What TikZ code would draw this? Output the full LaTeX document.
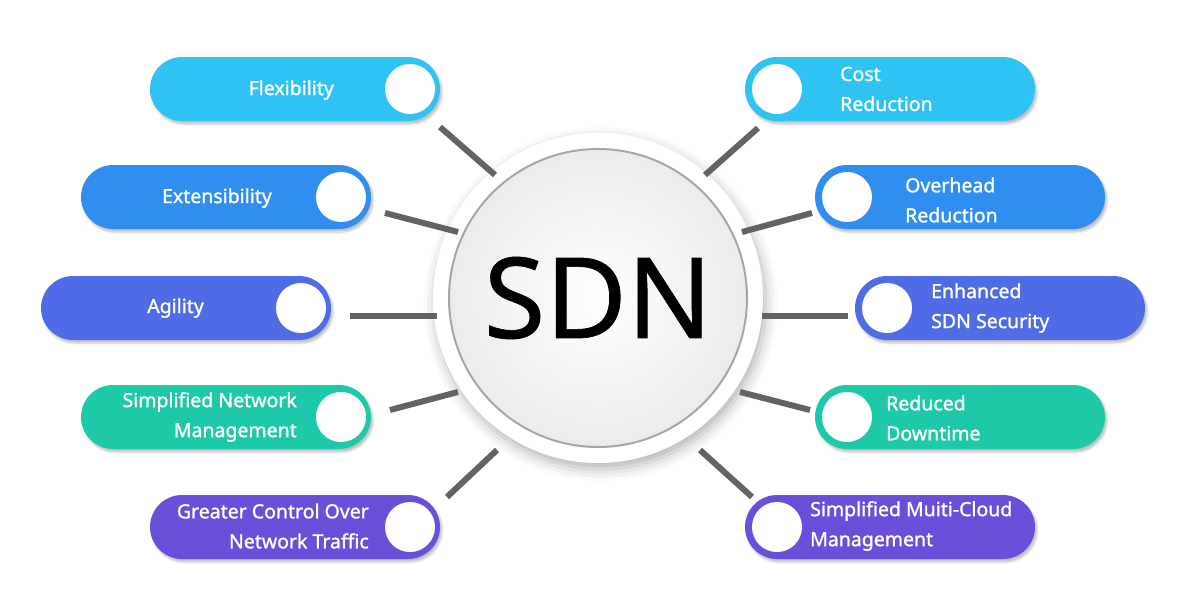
\documentclass[tikz,border=0pt]{standalone}
\usepackage{fontspec}
\setmainfont{Noto Sans}
\newfontfamily\labfont[FakeBold=1.3]{Noto Sans}
\newfontfamily\sdnfont[FakeBold=0.6]{Noto Sans}
\usetikzlibrary{shadows.blur}
\definecolor{cA}{HTML}{2EC3F2}
\definecolor{cB}{HTML}{2F8EEF}
\definecolor{cC}{HTML}{4F6BE6}
\definecolor{cD}{HTML}{1EC9A9}
\definecolor{cE}{HTML}{6A4FDB}
\definecolor{lk}{HTML}{636363}
\tikzset{
 pill/.style={rounded corners=32pt, minimum width=290pt, minimum height=64pt, draw=none, blur shadow={shadow xshift=2pt,shadow yshift=-3pt,shadow opacity=25}},
 dot/.style={circle, fill=white, minimum size=50pt, inner sep=0pt},
 lab/.style={text=white, font=\labfont\fontsize{19.5}{30}\selectfont, inner sep=0pt},
 link/.style={draw=lk, line width=6pt}
}
\begin{document}
\begin{tikzpicture}[x=1pt,y=-1pt]
\useasboundingbox (0,0) rectangle (1200,616);
% center
\node[circle, fill=white, minimum size=330pt, blur shadow={shadow blur radius=12pt,shadow yshift=-6pt,shadow opacity=30}] (c) at (598,298) {};
\node[circle, draw=gray!70, line width=2pt, inner color=white, outer color=gray!15, minimum size=298pt] (ci) at (598,298) {};
\node[font=\sdnfont\fontsize{112}{112}\selectfont] (sdn) at (598,298) {SDN};
% left
\node[pill, fill=cA] (l1) at (295,89) {};
\node[pill, fill=cB] (l2) at (226,197) {};
\node[pill, fill=cC] (l3) at (186,308) {};
\node[pill, fill=cD] (l4) at (226,417) {};
\node[pill, fill=cE] (l5) at (295,527) {};
\node[dot] (d1) at (410,89) {};
\node[dot] (d2) at (341,197) {};
\node[dot] (d3) at (301,308) {};
\node[dot] (d4) at (341,417) {};
\node[dot] (d5) at (410,527) {};
\node[lab, anchor=east] (t1) at (334,90) {Flexibility};
\node[lab, anchor=east] (t2) at (272,198) {Extensibility};
\node[lab, anchor=east] (t3) at (204,308) {Agility};
\node[lab, anchor=east, align=right] (t4) at (297,417) {Simplified Network\\Management};
\node[lab, anchor=east, align=right] (t5) at (369,526) {Greater Control Over\\Network Traffic};
% right
\node[pill, fill=cA] (r1) at (890,89) {};
\node[pill, fill=cB] (r2) at (960,197) {};
\node[pill, fill=cC] (r3) at (1000,308) {};
\node[pill, fill=cD] (r4) at (960,417) {};
\node[pill, fill=cE] (r5) at (890,527) {};
\node[dot] (e1) at (777,89) {};
\node[dot] (e2) at (847,197) {};
\node[dot] (e3) at (887,308) {};
\node[dot] (e4) at (847,417) {};
\node[dot] (e5) at (777,527) {};
\node[lab, anchor=west, align=left] (s1) at (840,89) {Cost\\Reduction};
\node[lab, anchor=west, align=left] (s2) at (905,200) {Overhead\\Reduction};
\node[lab, anchor=west, align=left] (s3) at (931,308) {Enhanced\\SDN Security};
\node[lab, anchor=west, align=left] (s4) at (886,418) {Reduced\\Downtime};
\node[lab, anchor=west, align=left] (s5) at (810,526) {Simplified Muiti-Cloud\\Management};
% links
\coordinate (a1) at (440,127); \coordinate (b1) at (495,175);
\coordinate (a2) at (385,213); \coordinate (b2) at (458,232);
\coordinate (a3) at (350,316); \coordinate (b3) at (437,316);
\coordinate (a4) at (390,410); \coordinate (b4) at (458,392);
\coordinate (a5) at (447,497); \coordinate (b5) at (497,450);
\coordinate (f1) at (758,128); \coordinate (g1) at (705,175);
\coordinate (f2) at (812,213); \coordinate (g2) at (742,232);
\coordinate (f3) at (848,316); \coordinate (g3) at (762,316);
\coordinate (f4) at (810,410); \coordinate (g4) at (740,392);
\coordinate (f5) at (752,497); \coordinate (g5) at (700,450);
\foreach \i in {1,...,5}{\draw[link] (a\i) -- (b\i); \draw[link] (f\i) -- (g\i);}
\end{tikzpicture}
\end{document}
